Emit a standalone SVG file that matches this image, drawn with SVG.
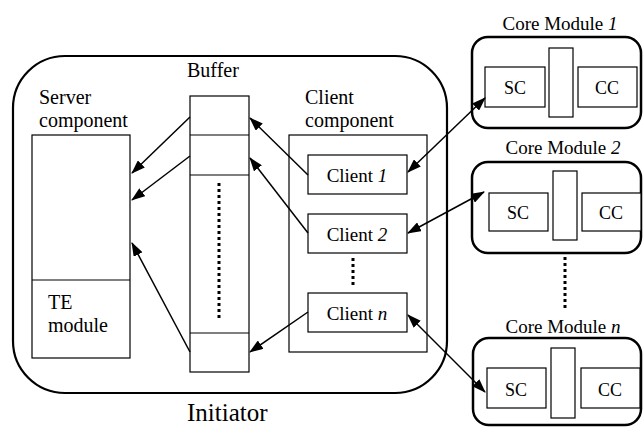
<svg xmlns="http://www.w3.org/2000/svg" width="644" height="429" viewBox="0 0 644 429">
<defs>
<style>
.lbl{font-size:20px}
.sm{font-size:19px}
.box{fill:#fff;stroke:#000;stroke-width:1.2}
.outer{fill:none;stroke:#000;stroke-width:2.2}
.core{fill:#fff;stroke:#000;stroke-width:2.5}
.arr{fill:none;stroke:#000;stroke-width:1.5}
.dot{fill:none;stroke:#000;stroke-width:3;stroke-dasharray:3 3}
</style>
<marker id="ah" viewBox="0 0 14 10" refX="13" refY="5" markerWidth="14" markerHeight="10" markerUnits="userSpaceOnUse" orient="auto-start-reverse">
<path d="M0,0 L14,5 L0,10 z" fill="#000"/>
</marker>
</defs>
<rect width="644" height="429" fill="#fff"/>
<g font-family="'Liberation Serif', 'Times New Roman', 'DejaVu Serif', serif" fill="#000">

<g id="initiator">
<rect class="outer" x="13" y="56" width="434" height="337" rx="52" ry="52"/>
<text x="187" y="421" font-size="25">Initiator</text>
</g>

<g id="server">
<text class="lbl" x="39" y="104">Server</text>
<text class="lbl" x="39" y="127">component</text>
<rect class="box" x="32" y="135" width="98" height="223"/>
<line x1="32" y1="280" x2="130" y2="280" stroke="#000" stroke-width="1.2"/>
<text class="lbl" x="48" y="309">TE</text>
<text class="lbl" x="48" y="332">module</text>
</g>

<g id="buffer">
<text class="lbl" x="187" y="77">Buffer</text>
<rect class="box" x="190" y="96" width="59" height="276"/>
<line x1="190" y1="135" x2="249" y2="135" stroke="#000" stroke-width="1.2"/>
<line x1="190" y1="175" x2="249" y2="175" stroke="#000" stroke-width="1.2"/>
<line x1="190" y1="333" x2="249" y2="333" stroke="#000" stroke-width="1.2"/>
<line class="dot" x1="219" y1="183" x2="219" y2="318"/>
</g>

<g id="client-component">
<text class="lbl" x="305" y="104">Client</text>
<text class="lbl" x="305" y="127">component</text>
<rect class="box" x="289" y="135" width="138" height="217"/>
</g>

<g id="client1">
<rect class="box" x="308" y="155" width="99" height="39"/>
<text class="sm" x="357" y="182" text-anchor="middle">Client <tspan font-style="italic">1</tspan></text>
</g>
<g id="client2">
<rect class="box" x="308" y="214" width="99" height="39"/>
<text class="sm" x="357" y="241" text-anchor="middle">Client <tspan font-style="italic">2</tspan></text>
</g>
<line class="dot" x1="353" y1="258" x2="353" y2="286"/>
<g id="clientn">
<rect class="box" x="308" y="293" width="99" height="39"/>
<text class="sm" x="357" y="320" text-anchor="middle">Client <tspan font-style="italic">n</tspan></text>
</g>

<g id="core1">
<text class="sm" x="560" y="30" text-anchor="middle">Core Module <tspan font-style="italic">1</tspan></text>
<rect class="core" x="472" y="37" width="169" height="91" rx="16" ry="16"/>
<rect class="box" x="485" y="67" width="60" height="40"/>
<rect class="box" x="549" y="48" width="24" height="69"/>
<rect class="box" x="578" y="67" width="59" height="40"/>
<text x="515" y="94" text-anchor="middle" font-size="18">SC</text>
<text x="607" y="94" text-anchor="middle" font-size="18">CC</text>
</g>

<g id="core2">
<text class="sm" x="563" y="154" text-anchor="middle">Core Module <tspan font-style="italic">2</tspan></text>
<rect class="core" x="472" y="162" width="169" height="91" rx="16" ry="16"/>
<rect class="box" x="489" y="193" width="59" height="38"/>
<rect class="box" x="553" y="171" width="24" height="69"/>
<rect class="box" x="582" y="193" width="59" height="38"/>
<text x="518" y="219" text-anchor="middle" font-size="18">SC</text>
<text x="611" y="219" text-anchor="middle" font-size="18">CC</text>
</g>

<line class="dot" x1="565" y1="257" x2="565" y2="308"/>

<g id="coren">
<text class="sm" x="563" y="333" text-anchor="middle">Core Module <tspan font-style="italic">n</tspan></text>
<rect class="core" x="473" y="338" width="168" height="87" rx="16" ry="16"/>
<rect class="box" x="487" y="368" width="59" height="40"/>
<rect class="box" x="551" y="348" width="24" height="70"/>
<rect class="box" x="581" y="368" width="59" height="40"/>
<text x="516" y="396" text-anchor="middle" font-size="18">SC</text>
<text x="610" y="396" text-anchor="middle" font-size="18">CC</text>
</g>
</g>

<g id="connectors">
<line class="arr" x1="190" y1="117" x2="132" y2="173" marker-end="url(#ah)"/>
<line class="arr" x1="190" y1="156" x2="132" y2="200" marker-end="url(#ah)"/>
<line class="arr" x1="190" y1="352" x2="132" y2="243" marker-end="url(#ah)"/>
<line class="arr" x1="308" y1="175" x2="250" y2="118" marker-end="url(#ah)"/>
<line class="arr" x1="308" y1="233" x2="250" y2="158" marker-end="url(#ah)"/>
<line class="arr" x1="308" y1="312" x2="250" y2="352" marker-end="url(#ah)"/>
<line class="arr" x1="408" y1="172" x2="485" y2="98" marker-start="url(#ah)" marker-end="url(#ah)"/>
<line class="arr" x1="408" y1="233" x2="484" y2="192" marker-start="url(#ah)" marker-end="url(#ah)"/>
<line class="arr" x1="408" y1="315" x2="485" y2="392" marker-start="url(#ah)" marker-end="url(#ah)"/>
</g>
</svg>
